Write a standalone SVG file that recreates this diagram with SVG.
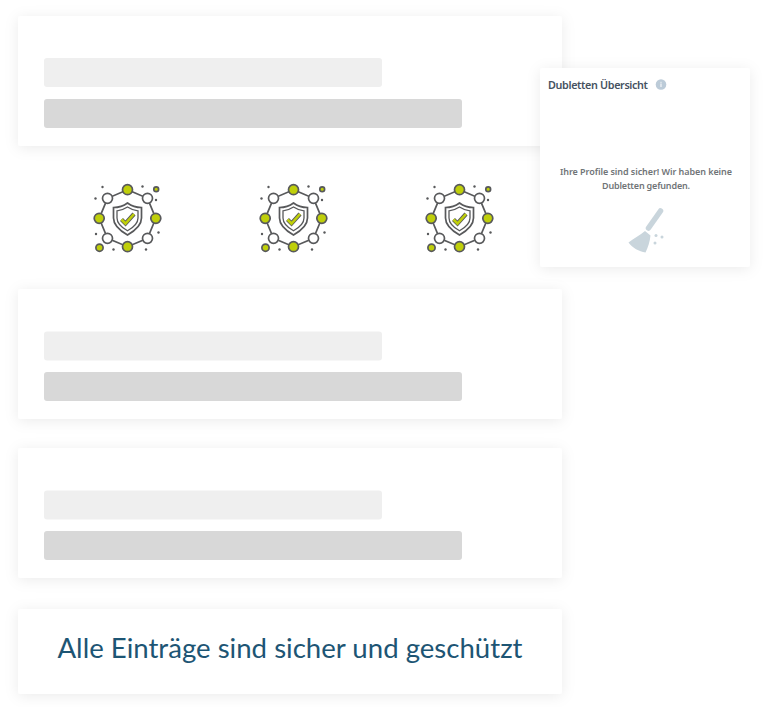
<svg xmlns="http://www.w3.org/2000/svg" xmlns:xlink="http://www.w3.org/1999/xlink" width="768" height="707" viewBox="0 0 768 707">
<style>
.card{fill:#fff;filter:url(#sh)}
.b1{fill:#efefef}
.b2{fill:#d8d8d8}
.ln{fill:none;stroke:#58595b;stroke-width:1.7}
.g{fill:#bfcf0a;stroke:#58595b;stroke-width:1.7}
.w{fill:#fff;stroke:#58595b;stroke-width:1.7}
.d{fill:#58595b}
.t{font-family:"Noto Sans","Open Sans",sans-serif}
</style>
<defs>
<filter id="sh" x="-10%" y="-30%" width="120%" height="160%"><feDropShadow dx="0" dy="2" stdDeviation="7" flood-color="#000" flood-opacity="0.08"/></filter>
<g id="icon">
<polygon class="ln" points="0,-28.3 -20,-19.7 -28.3,0.3 -20,20.3 0,28.7 20,20.3 28.3,0.3 20,-19.7"/>
<circle class="g" cx="0" cy="-28.300" r="5"/>
<circle class="g" cx="-28.300" cy="0.300" r="5"/>
<circle class="g" cx="28.300" cy="0.300" r="5"/>
<circle class="g" cx="0" cy="28.700" r="5"/>
<circle class="w" cx="-20" cy="-19.700" r="5"/>
<circle class="w" cx="20" cy="-19.700" r="5"/>
<circle class="w" cx="-20" cy="20.300" r="5"/>
<circle class="w" cx="20" cy="20.300" r="5"/>
<circle class="g" cx="28.700" cy="-28.700" r="2.400"/>
<circle class="g" cx="-28" cy="29.700" r="3.600"/>
<g class="d">
<circle cx="-25" cy="-31" r="1.200"/><circle cx="15" cy="-31.500" r="1.200"/><circle cx="-32" cy="-19.500" r="1.200"/><circle cx="28.500" cy="-18" r="1.200"/>
<circle cx="-31.500" cy="16" r="1.200"/><circle cx="31" cy="14.500" r="1.200"/><circle cx="-14" cy="31.500" r="1.200"/><circle cx="18.500" cy="31.500" r="1.200"/>
</g>
<path class="ln" d="M0,-15C4,-12 9,-10.500 14,-10.500V0C14,8 7,13 0,17C-7,13 -14,8 -14,0V-10.500C-9,-10.500 -4,-12 0,-15Z"/>
<path class="ln" style="stroke-width:1.300" d="M0,-11C3,-9 6.500,-7.500 10.500,-7.200V0C10.500,6 5,10 0,12.800C-5,10 -10.500,6 -10.500,0V-7.200C-6.500,-7.500 -3,-9 0,-11Z"/>
<path d="M-6,1.500L-2,5.500L6.500,-4" fill="none" stroke="#58595b" stroke-width="4.200"/>
<path d="M-6,1.500L-2,5.500L6.500,-4" fill="none" stroke="#bfcf0a" stroke-width="2.600"/>
</g>
</defs>
<rect width="768" height="707" fill="#fff"/>
<g id="card-1"><rect class="card" x="18" y="16" width="544" height="130" rx="3"/><rect class="b1" x="44" y="58" width="338" height="29" rx="3"/><rect class="b2" x="44" y="99" width="418" height="29" rx="3"/></g>
<g id="card-2"><rect class="card" x="18" y="289" width="544" height="130" rx="3"/><rect class="b1" x="44" y="331.500" width="338" height="29" rx="3"/><rect class="b2" x="44" y="372" width="418" height="29" rx="3"/></g>
<g id="card-3"><rect class="card" x="18" y="448" width="544" height="130" rx="3"/><rect class="b1" x="44" y="490.500" width="338" height="29" rx="3"/><rect class="b2" x="44" y="531" width="418" height="29" rx="3"/></g>
<g id="card-4"><rect class="card" x="18" y="609" width="544" height="85" rx="3"/>
<text x="290" y="657.500" text-anchor="middle" font-family="Lato,'Noto Sans',sans-serif" font-size="27" fill="#1d5574" textLength="465" lengthAdjust="spacingAndGlyphs">Alle Einträge sind sicher und geschützt</text></g>
<g id="icon-1"><use xlink:href="#icon" href="#icon" x="127.500" y="218"/></g>
<g id="icon-2"><use xlink:href="#icon" href="#icon" x="293.500" y="218"/></g>
<g id="icon-3"><use xlink:href="#icon" href="#icon" x="459.500" y="218"/></g>
<g id="side-card"><rect class="card" x="540" y="68" width="210" height="199" rx="3"/>
<text class="t" x="548" y="88.500" font-size="10.800" font-weight="600" fill="#46525f" textLength="100" lengthAdjust="spacing">Dubletten Übersicht</text>
<circle cx="661" cy="84.500" r="5.300" fill="#bccbd8"/><rect x="660.500" y="83.500" width="1" height="3.500" fill="#fff"/><rect x="660.500" y="81.800" width="1" height="1" fill="#fff"/>
<text class="t" x="646" y="174.500" text-anchor="middle" font-size="9" font-weight="600" fill="#707477" textLength="172" lengthAdjust="spacing">Ihre Profile sind sicher! Wir haben keine</text>
<text class="t" x="646" y="188.500" text-anchor="middle" font-size="9" font-weight="600" fill="#707477" textLength="88" lengthAdjust="spacing">Dubletten gefunden.</text>
<path d="M660.500,211L648.500,228" fill="none" stroke="#c9d5dc" stroke-width="5.500" stroke-linecap="round"/>
<path d="M645,231L650.500,235.500C650,241 648,247.500 645.500,252.500C639,251.500 632.500,248 628.500,242.500C634,238.500 640,235 645,231Z" fill="#c9d5dc"/>
<g fill="#c9d5dc"><circle cx="656" cy="235.500" r="1.500"/><circle cx="662" cy="237" r="1.500"/><circle cx="655" cy="243" r="1.500"/></g>
</g>
</svg>
